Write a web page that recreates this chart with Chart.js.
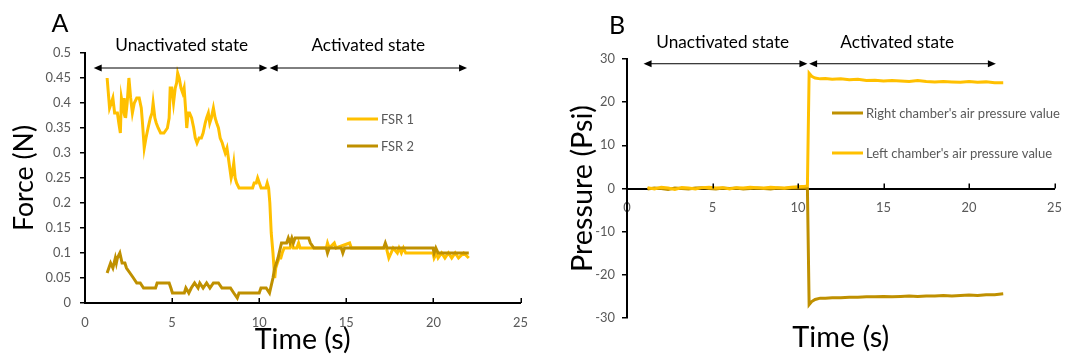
<!DOCTYPE html>
<html><head><meta charset="utf-8">
<script src="https://cdn.jsdelivr.net/npm/chart.js@4/dist/chart.umd.min.js"></script>
<style>
html,body{margin:0;padding:0;background:#fff;}
#wrap{position:relative;width:1074px;height:358px;overflow:hidden;background:#fff;}
canvas{position:absolute;top:0;}
</style></head><body>
<div id="wrap"><canvas id="ca" width="540" height="358" style="left:0"></canvas><canvas id="cb" width="534" height="358" style="left:540px"></canvas></div>
<script>
// ---------- DATA ----------
const timeTicks = [0, 5, 10, 15, 20, 25];
const forceTicks = [0, 0.05, 0.1, 0.15, 0.2, 0.25, 0.3, 0.35, 0.4, 0.45, 0.5];
const pressureTicks = [-30, -20, -10, 0, 10, 20, 30];

const fsr1Time = [1.27,1.41,1.51,1.60,1.70,1.86,1.94,2.03,2.09,2.19,2.25,2.33,2.42,2.52,2.62,2.72,2.83,2.97,3.11,3.23,3.30,3.40,3.50,3.62,3.75,3.85,3.91,4.01,4.09,4.20,4.34,4.53,4.73,4.83,4.89,4.98,5.08,5.18,5.26,5.32,5.41,5.51,5.61,5.69,5.77,5.84,5.92,6.00,6.12,6.24,6.33,6.43,6.55,6.68,6.78,6.90,6.98,7.08,7.16,7.25,7.37,7.47,7.56,7.66,7.76,7.88,7.96,8.05,8.15,8.23,8.31,8.39,8.46,8.54,8.62,8.70,8.84,9.32,9.62,9.71,9.83,9.91,10.01,10.11,10.26,10.38,10.46,10.54,10.61,10.69,10.79,10.89,10.95,11.04,11.14,11.24,11.32,11.43,11.58,11.77,11.87,11.96,12.16,12.26,12.35,12.84,13.04,13.85,13.92,14.02,14.31,14.41,15.19,15.29,17.14,17.30,17.44,17.57,17.69,17.93,18.03,18.16,18.28,18.41,18.71,19.98,20.04,20.18,20.27,20.47,20.66,20.86,21.05,21.25,21.44,21.74,22.03];
const fsr1Force = [0.45,0.39,0.40,0.41,0.38,0.38,0.36,0.34,0.41,0.39,0.41,0.37,0.40,0.45,0.41,0.38,0.40,0.41,0.41,0.39,0.36,0.31,0.33,0.35,0.37,0.38,0.40,0.37,0.36,0.35,0.34,0.34,0.35,0.37,0.43,0.43,0.40,0.43,0.44,0.46,0.45,0.43,0.42,0.43,0.39,0.35,0.38,0.38,0.37,0.35,0.33,0.32,0.33,0.33,0.34,0.36,0.37,0.38,0.36,0.37,0.39,0.37,0.36,0.35,0.33,0.32,0.31,0.30,0.31,0.29,0.27,0.25,0.26,0.28,0.25,0.24,0.23,0.23,0.23,0.24,0.24,0.25,0.24,0.23,0.23,0.23,0.24,0.23,0.20,0.14,0.10,0.05,0.07,0.08,0.09,0.09,0.10,0.11,0.11,0.11,0.12,0.11,0.11,0.12,0.11,0.11,0.11,0.11,0.12,0.11,0.12,0.11,0.12,0.11,0.11,0.11,0.09,0.10,0.11,0.10,0.11,0.10,0.11,0.10,0.10,0.10,0.09,0.10,0.09,0.10,0.09,0.10,0.09,0.10,0.09,0.10,0.09];

const fsr2Time = [1.27,1.37,1.47,1.60,1.74,1.80,1.86,2.00,2.13,2.29,2.38,2.58,2.78,2.97,3.17,3.36,4.05,4.14,4.83,4.93,5.02,5.70,5.79,5.96,6.10,6.29,6.49,6.59,6.78,6.98,7.17,7.37,7.66,7.86,8.35,8.54,8.74,8.84,10.00,10.10,10.40,10.59,10.79,10.89,11.08,11.28,11.57,11.67,11.77,11.87,11.96,12.06,12.84,12.94,13.14,13.85,13.92,14.02,14.71,14.80,14.90,17.14,17.24,17.34,19.98,20.04,20.14,20.27,22.03];
const fsr2Force = [0.06,0.07,0.08,0.07,0.09,0.08,0.09,0.10,0.08,0.08,0.07,0.06,0.05,0.04,0.04,0.03,0.03,0.04,0.04,0.03,0.02,0.02,0.03,0.02,0.03,0.04,0.03,0.04,0.03,0.04,0.03,0.04,0.04,0.03,0.03,0.02,0.01,0.02,0.02,0.03,0.03,0.02,0.05,0.07,0.09,0.12,0.12,0.13,0.12,0.13,0.12,0.13,0.13,0.12,0.11,0.11,0.10,0.11,0.11,0.10,0.11,0.11,0.12,0.11,0.11,0.10,0.11,0.10,0.10];

const pressureTime = [1.2,1.6,2.0,2.4,2.8,3.2,3.6,4.0,4.4,4.8,5.2,5.6,6.0,6.4,6.8,7.2,7.6,8.0,8.4,8.8,9.2,9.6,10.0,10.4,10.55,10.65,10.8,11.0,11.3,11.6,12.0,12.5,13.0,13.5,14.0,14.5,15.0,15.5,16.0,16.5,17.0,17.5,18.0,18.5,19.0,19.5,20.0,20.5,21.0,21.5,22.0];
const leftPressure = [0.2,-0.1,0.3,0.1,-0.2,0.2,0.1,-0.1,0.2,0.3,0.1,0.2,-0.1,0.2,0.1,0.3,0.2,0.1,0.3,0.2,0.1,0.3,0.4,0.5,0.6,26.7,26.0,25.6,25.4,25.5,25.3,25.4,25.2,25.3,25.0,25.1,24.9,25.0,24.9,24.8,25.0,24.8,24.7,24.8,24.7,24.6,24.8,24.6,24.7,24.5,24.5];
const rightPressure = [-0.1,0.1,0,-0.2,0.1,0,-0.1,0.1,0.2,0,-0.1,0.1,0,0.1,-0.1,0,0.1,0,-0.1,0.1,0,0.1,0.2,0.1,0,-26.9,-26.2,-25.7,-25.4,-25.4,-25.3,-25.3,-25.2,-25.2,-25.1,-25.1,-25.0,-25.1,-25.0,-24.9,-25.0,-24.9,-24.9,-24.8,-24.9,-24.8,-24.7,-24.8,-24.6,-24.6,-24.4];

// ---------- STYLE ----------
const FONT = 'Lato, "Open Sans", "DejaVu Sans", sans-serif';
const GREY = '#595959';
const YELLOW = '#FFC000';
const GOLD = '#BF9000';
const mctx = document.createElement('canvas').getContext('2d');
function fitSize(text, width) {
  mctx.font = '100px ' + FONT;
  return 100 * width / mctx.measureText(text).width;
}
Chart.defaults.font.family = FONT;

const tickSize = fitSize('0.45', 25.5);
const stateSize = fitSize('Unactivated state', 133);
const pts = (xs, ys) => xs.map((t, i) => ({x: t, y: ys[i]}));
const setTicks = vals => s => { s.ticks = vals.map(v => ({value: v})); };

function drawArrow(ctx, x1, x2, y) {
  const hl = 8, hh = 3.5;
  ctx.strokeStyle = '#000'; ctx.fillStyle = '#000'; ctx.lineWidth = 1;
  ctx.beginPath(); ctx.moveTo(x1 + hl - 1, y); ctx.lineTo(x2 - hl + 1, y); ctx.stroke();
  ctx.beginPath(); ctx.moveTo(x1, y); ctx.lineTo(x1 + hl, y - hh); ctx.lineTo(x1 + hl, y + hh); ctx.closePath(); ctx.fill();
  ctx.beginPath(); ctx.moveTo(x2, y); ctx.lineTo(x2 - hl, y - hh); ctx.lineTo(x2 - hl, y + hh); ctx.closePath(); ctx.fill();
}

const annotPlugin = {
  id: 'annot',
  afterDraw(chart, args, o) {
    const ctx = chart.ctx, xs = chart.scales.x, ys = chart.scales.y;
    ctx.save();
    // inward x tick marks
    const yb = ys.getPixelForValue(o.tickBase);
    ctx.strokeStyle = '#000'; ctx.lineWidth = 1.5;
    for (const t of timeTicks) {
      if (t === 0) continue;
      const px = Math.round(xs.getPixelForValue(t)) + 0.25;
      ctx.beginPath(); ctx.moveTo(px, yb); ctx.lineTo(px, yb - 5); ctx.stroke();
    }
    // arrows
    for (const a of o.arrows) drawArrow(ctx, xs.getPixelForValue(a[0]), xs.getPixelForValue(a[1]), ys.getPixelForValue(a[2]));
    // state labels
    ctx.fillStyle = '#000'; ctx.textAlign = 'center'; ctx.textBaseline = 'middle';
    ctx.font = stateSize.toFixed(2) + 'px ' + FONT;
    for (const l of o.labels) ctx.fillText(l[0], xs.getPixelForValue(l[1]), ys.getPixelForValue(l[2]));
    // panel letter
    ctx.font = '25px ' + FONT;
    ctx.fillText(o.letter[0], o.letter[1], o.letter[2]);
    // legend
    const ds = chart.data.datasets;
    ctx.textAlign = 'left';
    ctx.font = o.legendSize.toFixed(2) + 'px ' + FONT;
    o.legendRows.forEach((row, i) => {
      const d = ds[row[0]];
      ctx.strokeStyle = d.borderColor; ctx.lineWidth = 3;
      ctx.beginPath(); ctx.moveTo(o.legendX, row[1]); ctx.lineTo(o.legendX + 31, row[1]); ctx.stroke();
      ctx.fillStyle = GREY;
      ctx.fillText(d.label, o.legendX + 34, row[1] + 0.5);
    });
    ctx.restore();
  }
};

const tickFont = {family: FONT, size: tickSize};

// ---------- PANEL A ----------
const forceTitleSize = fitSize('Force (N)', 106);
const timeTitleSize = fitSize('Time (s)', 96);
new Chart(document.getElementById('ca'), {
  type: 'line',
  data: {datasets: [
    {label: 'FSR 1', data: pts(fsr1Time, fsr1Force), borderColor: YELLOW, backgroundColor: YELLOW, borderWidth: 3, pointRadius: 0, tension: 0, order: 1},
    {label: 'FSR 2', data: pts(fsr2Time, fsr2Force), borderColor: GOLD, backgroundColor: GOLD, borderWidth: 3, pointRadius: 0, tension: 0, order: 0}
  ]},
  options: {
    responsive: false, animation: false, events: [],
    layout: {padding: {left: 0, right: 17, top: 53, bottom: 0}},
    plugins: {
      legend: {display: false}, tooltip: {enabled: false},
      annot: {
        tickBase: 0,
        arrows: [[0.5, 10.47, 0.47], [10.6, 21.93, 0.47]],
        labels: [['Unactivated state', 5.55, 0.516], ['Activated state', 16.26, 0.516]],
        letter: ['A', 60, 24],
        legendX: 347, legendSize: fitSize('FSR 1', 33),
        legendRows: [[0, 119], [1, 146]]
      }
    },
    scales: {
      x: {
        type: 'linear', min: 0, max: 25, afterBuildTicks: setTicks(timeTicks),
        grid: {display: false, drawTicks: false},
        border: {display: true, color: '#000', width: 2},
        ticks: {color: GREY, font: tickFont, padding: 12, maxRotation: 0},
        title: {display: true, text: 'Time (s)', color: '#000', font: {family: FONT, size: timeTitleSize, lineHeight: 1}, padding: {top: 0, bottom: 18 - timeTitleSize / 2}},
        afterFit: s => { s.height = 55; }
      },
      y: {
        type: 'linear', min: 0, max: 0.5, afterBuildTicks: setTicks(forceTicks),
        grid: {display: true, drawOnChartArea: false, drawTicks: true, tickLength: 5, color: '#000', lineWidth: 1.5},
        border: {display: true, color: '#000', width: 2},
        ticks: {color: GREY, font: tickFont, padding: 9, callback: v => String(v)},
        title: {display: true, text: 'Force (N)', color: '#000', font: {family: FONT, size: forceTitleSize, lineHeight: 1}, padding: {top: 24 - forceTitleSize / 2, bottom: 0}},
        afterFit: s => { s.width = 85; }
      }
    }
  },
  plugins: [annotPlugin]
});

// ---------- PANEL B ----------
const pressTitleSize = fitSize('Pressure (Psi)', 167);
const timeTitleSizeB = fitSize('Time (s)', 97);
new Chart(document.getElementById('cb'), {
  type: 'line',
  data: {datasets: [
    {label: "Right chamber's air pressure value", data: pts(pressureTime, rightPressure), borderColor: GOLD, backgroundColor: GOLD, borderWidth: 3, pointRadius: 0, tension: 0, order: 1, xAxisID: 'x'},
    {label: "Left chamber's air pressure value", data: pts(pressureTime, leftPressure), borderColor: YELLOW, backgroundColor: YELLOW, borderWidth: 3, pointRadius: 0, tension: 0, order: 0, xAxisID: 'x'}
  ]},
  options: {
    responsive: false, animation: false, events: [],
    layout: {padding: {left: 0, right: 10, top: 59, bottom: 0}},
    plugins: {
      legend: {display: false}, tooltip: {enabled: false},
      annot: {
        tickBase: 0,
        arrows: [[0.97, 10.55, 28.9], [10.65, 21.57, 28.9]],
        labels: [['Unactivated state', 5.6, 33.8], ['Activated state', 15.8, 33.8]],
        letter: ['B', 77, 26],
        legendX: 292, legendSize: fitSize("Right chamber's air pressure value", 194),
        legendRows: [[0, 113], [1, 153]]
      }
    },
    scales: {
      x: {
        type: 'linear', min: 0, max: 25, position: {y: 0}, afterBuildTicks: setTicks(timeTicks),
        grid: {display: false, drawTicks: false},
        border: {display: true, color: '#000', width: 2},
        ticks: {color: GREY, font: tickFont, padding: 12, maxRotation: 0}
      },
      x2: {
        type: 'linear', min: 0, max: 25, position: 'bottom',
        grid: {display: false, drawTicks: false},
        border: {display: false},
        ticks: {display: false},
        title: {display: true, text: 'Time (s)', color: '#000', font: {family: FONT, size: timeTitleSizeB, lineHeight: 1}, padding: {top: 0, bottom: 20 - timeTitleSizeB / 2}},
        afterFit: s => { s.height = 40; }
      },
      y: {
        type: 'linear', min: -30, max: 30, afterBuildTicks: setTicks(pressureTicks),
        grid: {display: true, drawOnChartArea: false, drawTicks: true, tickLength: 5, color: '#000', lineWidth: 1.5},
        border: {display: true, color: '#000', width: 2},
        ticks: {color: GREY, font: tickFont, padding: 7, callback: v => String(v)},
        title: {display: true, text: 'Pressure (Psi)', color: '#000', font: {family: FONT, size: pressTitleSize, lineHeight: 1}, padding: {top: 42.7 - pressTitleSize / 2, bottom: 0}},
        afterFit: s => { s.width = 87; }
      }
    }
  },
  plugins: [annotPlugin]
});
</script>
</body></html>
